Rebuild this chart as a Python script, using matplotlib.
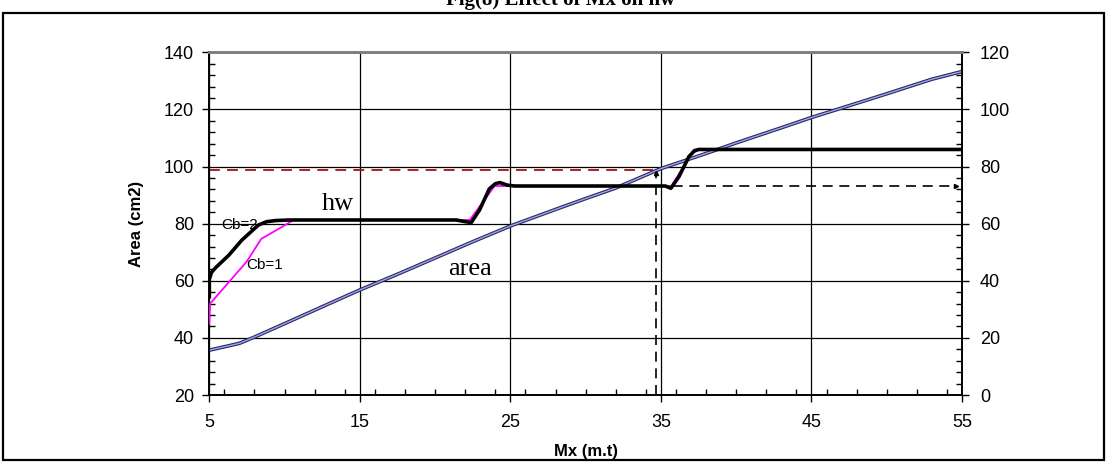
import matplotlib
matplotlib.use("Agg")
import matplotlib.pyplot as plt
from matplotlib.patches import Rectangle
from matplotlib.ticker import MultipleLocator

plt.rcParams['font.family'] = ['Liberation Sans', 'DejaVu Sans']

# ---- data ----
mx_area = [5, 7, 8, 10, 13, 15, 17.5, 20, 22.5, 25, 28, 30, 32, 35, 38, 40, 43, 45, 47, 50, 53, 55]
area = [35.7, 38.1, 40.3, 45.0, 52.1, 56.8, 62.3, 68.0, 73.7, 79.2, 85.0, 88.8, 92.5, 99.3,
        104.6, 108.3, 113.6, 117.2, 120.5, 125.5, 130.6, 133.3]

# hw in right-axis units (cm)
mx_cb2 = [5, 5, 5.15, 5.4, 6.3, 7.15, 8.25, 8.8, 9.4, 10.3, 21.4, 21.9, 22.4, 22.95, 23.6, 24.0,
          24.3, 24.8, 25.3, 35.3, 35.66, 36.2, 36.86, 37.2, 37.5, 55]
hw_cb2 = [34.4, 40.5, 43.0, 44.5, 49.0, 54.2, 59.5, 60.7, 61.1, 61.3, 61.3, 60.8, 60.4, 64.8, 72.2,
          74.0, 74.4, 73.5, 73.2, 73.2, 72.4, 76.5, 83.5, 85.4, 86.0, 86.0]

mx_cb1 = [5, 5.05, 7.48, 8.45, 9.8, 10.6, 22.3, 23.95, 35.7, 37.2, 55]
hw_cb1 = [25.0, 32.0, 46.7, 54.7, 58.8, 61.3, 61.3, 73.2, 73.2, 86.0, 86.0]

# reading example: required area -> Mx -> hw
area_req = 98.8
mx_req = 34.7
hw_read = 73.2

xticks = [5, 15, 25, 35, 45, 55]

fig = plt.figure(figsize=(11.07, 4.62), dpi=100)
ax = fig.add_axes([0.1891, 0.145, 0.6799, 0.7416])
ax2 = ax.twinx()

ax.set_xlim(5, 55)
ax.set_ylim(20, 140)
ax2.set_ylim(0, 120)

# grid
ax.set_xticks(xticks)
ax.xaxis.set_minor_locator(MultipleLocator(2))
ax.set_yticks(range(20, 141, 20))
ax.yaxis.set_minor_locator(MultipleLocator(4))
ax2.set_yticks(range(0, 121, 20))
ax2.yaxis.set_minor_locator(MultipleLocator(4))
ax.grid(True, which='major', color='black', lw=0.9)
ax.set_axisbelow(True)

ax.tick_params(which='major', direction='out', length=5, width=1, labelsize=13, colors='black')
ax.tick_params(which='minor', direction='in', length=4, width=1)
ax2.tick_params(which='major', direction='out', length=5, width=1, labelsize=13, pad=8)
ax2.tick_params(which='minor', direction='in', length=4, width=1)
ax.tick_params(axis='x', pad=9)
ax.tick_params(axis='y', pad=6)

for a in (ax, ax2):
    a.spines['top'].set_color('#808080')
    a.spines['top'].set_linewidth(2)
    for s in ('left', 'right', 'bottom'):
        a.spines[s].set_linewidth(1.2)

ax.set_xlabel('Mx (m.t)', fontsize=12, fontweight='bold', labelpad=9)
ax.set_ylabel('Area (cm2)', fontsize=12, fontweight='bold', labelpad=14)

# area line (double look)
ax.plot(mx_area, area, color='#2b2b55', lw=2.6, solid_capstyle='butt', zorder=3)
ax.plot(mx_area, area, color='#a0a0ff', lw=1.0, zorder=4)

# hw lines
ax2.plot(mx_cb1, hw_cb1, color='#ff00ff', lw=1.3, zorder=3)
ax2.plot(mx_cb2, hw_cb2, color='black', lw=2.6, zorder=4, solid_joinstyle='round')

# reading lines
ax.plot([5, mx_req], [area_req, area_req], color='#a01010', lw=1.3, dashes=(6, 4), zorder=2)
ax.plot([mx_req, mx_req], [20, area_req - 0.8], color='black', lw=1.2, dashes=(6, 4), zorder=2)
ax.plot([mx_req], [area_req - 1.2], marker='^', ms=3, color='black', zorder=5)
ax2.plot([mx_req, 54.5], [hw_read, hw_read], color='black', lw=1.2, dashes=(6, 4), zorder=2)
ax2.plot([54.6], [hw_read], marker='>', ms=3, color='black', zorder=5)

# annotations
serif = ['Liberation Serif', 'DejaVu Serif']
ax.text(13.53, 86.9, 'hw', family=serif, fontsize=19, ha='center', va='center')
ax.text(22.3, 64.1, 'area', family=serif, fontsize=19, ha='center', va='center')
ax.text(7.04, 79.7, 'Cb=2', fontsize=11, ha='center', va='center', zorder=6)
ax.text(8.66, 65.6, 'Cb=1', fontsize=11, ha='center', va='center', zorder=6)

# frame and title (the reference shows it clipped at the top edge)
fig.text(0.506, 1 - 5 / 462, 'Fig(8) Effect of Mx on hw', family=serif, fontsize=15,
         fontweight='bold', ha='center', va='baseline')
fig.add_artist(Rectangle((3 / 1107, 2 / 462), 1101 / 1107, 447 / 462, transform=fig.transFigure,
                         fill=False, edgecolor='black', lw=1.6))

fig.savefig('out.png', dpi=100)
